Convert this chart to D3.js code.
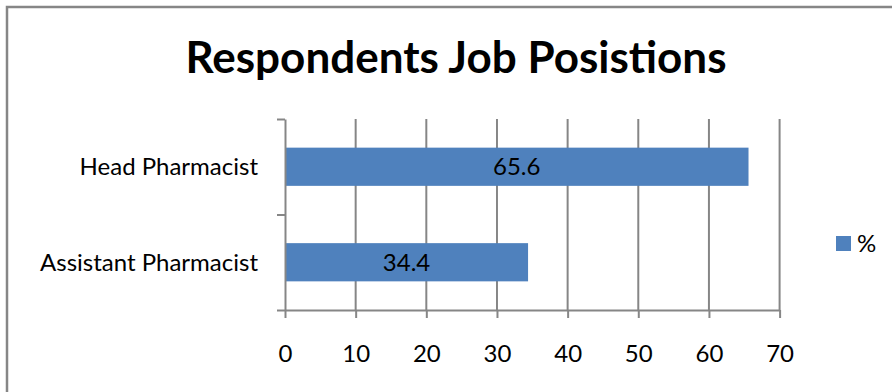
<!DOCTYPE html>
<html>
<head>
<meta charset="utf-8">
<script src="https://cdn.jsdelivr.net/npm/d3@7"></script>
<style>
  body { margin: 0; background: #fff; }
  svg text { font-family: Lato, "Open Sans", sans-serif; fill: #000; }
</style>
</head>
<body>
<script>
// chart data
var categories = ["Head Pharmacist", "Assistant Pharmacist"]
var values = [65.6, 34.4]
var xTicks = [0, 10, 20, 30, 40, 50, 60, 70]
var seriesName = "%"
var title = "Respondents Job Posistions"

var allData = categories.map(function(c, i) { return {cat: c, val: values[i]} })

function setUpCanvas(){
    var W = 892, H = 392
    var plot = {left: 285, right: 779.6, top: 119, bottom: 310}
    var grey = "#868686", blue = "#4f81bd"

    var canvas = d3.select("body").append("svg")
                    .attr("width", W)
                    .attr("height", H)

    // outer frame (right/bottom edges fall outside the picture)
    canvas.append("rect")
          .attr("x", 7).attr("y", 7)
          .attr("width", W + 10).attr("height", H + 10)
          .attr("fill", "#fff")
          .attr("stroke", grey)
          .attr("stroke-width", 2.5)

    canvas.append("text")
          .attr("x", 456).attr("y", 73)
          .attr("text-anchor", "middle")
          .style("font-size", "44px")
          .style("font-weight", "bold")
          .text(title)

    var xScale = d3.scaleLinear()
                    .domain([0, 70])
                    .range([plot.left, plot.right])

    var yScale = d3.scaleBand()
                    .domain(categories)
                    .range([plot.top, plot.bottom])
                    .paddingInner(0.6)
                    .paddingOuter(0.3)

    // boundary scale for the category separator ticks
    var ySep = d3.scaleLinear().domain([0, categories.length]).range([plot.top, plot.bottom])

    // vertical gridlines
    canvas.append("g").selectAll("line")
          .data(xTicks.slice(1))
          .enter().append("line")
          .attr("x1", function(d) { return xScale(d) })
          .attr("x2", function(d) { return xScale(d) })
          .attr("y1", plot.top)
          .attr("y2", plot.bottom)
          .attr("stroke", grey)
          .attr("stroke-width", 2)

    // bars
    canvas.append("g").selectAll(".bar")
          .data(allData)
          .enter().append("rect")
          .attr("class", "bar")
          .attr("x", xScale(0))
          .attr("y", function(d) { return yScale(d.cat) })
          .attr("width", function(d) { return xScale(d.val) - xScale(0) })
          .attr("height", yScale.bandwidth())
          .attr("fill", blue)

    // value labels
    canvas.append("g").selectAll("text")
          .data(allData)
          .enter().append("text")
          .attr("x", function(d) { return (xScale(0) + xScale(d.val)) / 2 })
          .attr("y", function(d) { return yScale(d.cat) + yScale.bandwidth() / 2 })
          .attr("dy", "0.36em")
          .attr("text-anchor", "middle")
          .style("font-size", "24px")
          .text(function(d) { return d.val })

    // x axis
    var xAxis = canvas.append("g")
          .attr("transform", "translate(0," + plot.bottom + ")")
          .call(d3.axisBottom(xScale).tickValues(xTicks).tickSize(8).tickSizeOuter(0).tickPadding(27))
    xAxis.select(".domain").attr("stroke", grey).attr("stroke-width", 2)
    xAxis.selectAll(".tick line").attr("stroke", grey).attr("stroke-width", 2)
    xAxis.selectAll(".tick text").style("font-size", "24px").attr("fill", "#000")

    // y axis (separator ticks only)
    var yAxis = canvas.append("g")
          .attr("transform", "translate(" + plot.left + ",0)")
          .call(d3.axisLeft(ySep).tickValues(d3.range(categories.length + 1)).tickFormat("").tickSize(8).tickSizeOuter(0))
    yAxis.select(".domain").attr("stroke", grey).attr("stroke-width", 2)
    yAxis.selectAll(".tick line").attr("stroke", grey).attr("stroke-width", 2)

    // category labels
    canvas.append("g").selectAll("text")
          .data(categories)
          .enter().append("text")
          .attr("x", 258)
          .attr("y", function(d) { return yScale(d) + yScale.bandwidth() / 2 })
          .attr("dy", "0.36em")
          .attr("text-anchor", "end")
          .style("font-size", "24px")
          .text(function(d) { return d })

    // legend
    var legend = canvas.append("g").attr("transform", "translate(836,236)")
    legend.append("rect").attr("width", 15).attr("height", 15).attr("fill", blue)
    legend.append("text")
          .attr("x", 21).attr("y", 7.5).attr("dy", "0.36em")
          .style("font-size", "24px")
          .text(seriesName)
}

setUpCanvas()
</script>
</body>
</html>
